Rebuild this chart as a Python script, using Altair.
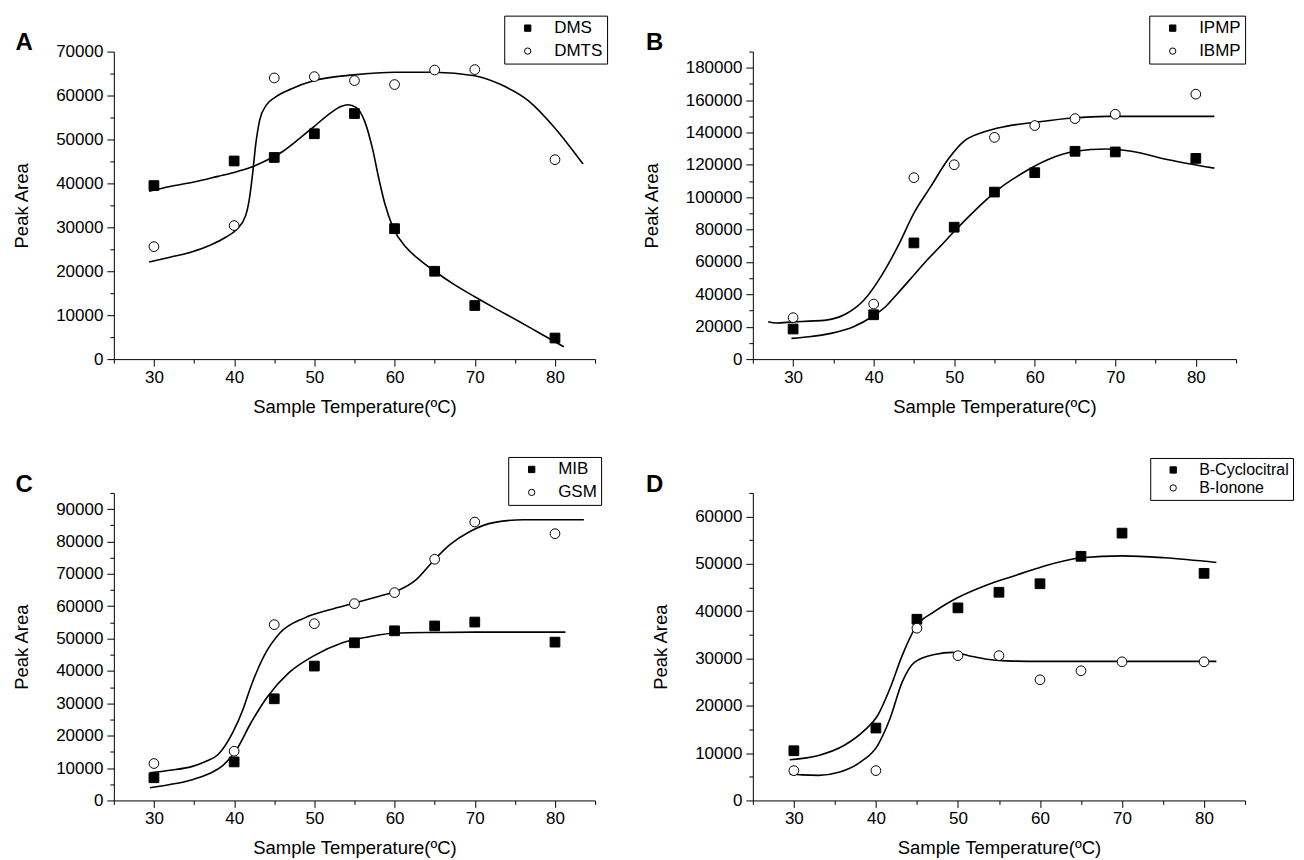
import altair as alt
import pandas as pd

FONT = "Liberation Sans"

# ---------------- data ----------------
temps = [30, 40, 45, 50, 55, 60, 65, 70, 80]
x_ticks = [25, 30, 35, 40, 45, 50, 55, 60, 65, 70, 75, 80, 85]

# Panel A
a_names = ["DMS", "DMTS"]
a_s1 = [39500, 45100, 45900, 51300, 55900, 29700, 20000, 12200, 4800]
a_s2 = [25600, 30400, 64000, 64300, 63400, 62500, 65800, 65900, 45400]
a_c1_t = [29.4, 32, 35, 38, 40, 42, 44, 46, 48, 50, 52, 53.3, 54.2, 55.2, 56.3, 57.3, 58, 58.8, 59.8, 61.4, 63.2, 65, 67.5, 70, 72.5, 75.2, 78, 81.1]
a_c1_v = [38200, 39300, 40300, 41600, 42500, 43600, 45200, 47200, 50000, 53000, 56000, 57500, 57900, 57300, 54000, 47500, 41400, 35300, 30000, 25500, 22500, 20000, 16900, 14200, 11600, 8900, 6000, 2800]
a_c2_t = [29.4, 32, 34.7, 37, 39, 40.3, 41.4, 41.9, 42.3, 42.7, 43.2, 44, 45.1, 47.1, 50, 54.9, 60.1, 65, 70, 73.1, 76.7, 79.9, 83.5]
a_c2_v = [22100, 23200, 24400, 25900, 27800, 29500, 32500, 36500, 42200, 49000, 54500, 57800, 59600, 61500, 63400, 64700, 65300, 65300, 64500, 62600, 58800, 52800, 44400]

# Panel B
b_names = ["IPMP", "IBMP"]
b_s1 = [18600, 27400, 71800, 81500, 103200, 115200, 128400, 128000, 124000]
b_s2 = [25600, 34000, 112100, 120100, 137000, 144300, 148600, 151300, 163700]
b_c1_t = [29.8, 32, 34.7, 37.5, 39.8, 41.5, 43, 45, 46.5, 48.1, 50.2, 51.8, 53.3, 55.4, 58.5, 61.6, 65, 68.9, 72, 76.6, 82.3]
b_c1_v = [12800, 13800, 15900, 20000, 26200, 32500, 40700, 52000, 60500, 68800, 79900, 88000, 95300, 104600, 115000, 123200, 128400, 129800, 128400, 123200, 118000]
b_c2_t = [26.9, 27.9, 30, 32, 34.1, 36.7, 38.8, 40.9, 43, 45, 47.1, 49.2, 51.2, 53.3, 56.4, 60, 64.7, 68.9, 75, 82.3]
b_c2_v = [23100, 22300, 23000, 23500, 24100, 28300, 36500, 51000, 69600, 90200, 106700, 123200, 134600, 139700, 143800, 146300, 149000, 150000, 150000, 150000]

# Panel C
c_names = ["MIB", "GSM"]
c_s1 = [7000, 11900, 31400, 41500, 48700, 52400, 53900, 55100, 48900]
c_s2 = [11400, 15200, 54300, 54600, 60800, 64200, 74500, 86000, 82400]
c_c1_t = [29.5, 32, 34.9, 37, 38.5, 40.3, 42.1, 44.2, 46.8, 49.8, 53.5, 57.1, 60.2, 65, 70, 75, 81.3]
c_c1_v = [3900, 4900, 6500, 8400, 10600, 15700, 24000, 32200, 39400, 44500, 48700, 50700, 51700, 51900, 52000, 52000, 52000]
c_c2_t = [29.5, 32, 34.9, 36.5, 38, 39.8, 41.1, 42.1, 43.7, 45.7, 48.8, 51.9, 55, 58.1, 60.2, 62.7, 64.8, 66.9, 69.4, 72.5, 76.1, 80, 83.6]
c_c2_v = [8500, 9300, 10600, 12100, 14200, 20900, 28100, 35300, 44500, 51700, 56400, 58900, 61000, 63100, 64600, 68200, 73900, 79000, 83100, 85900, 86700, 86700, 86700]

# Panel D
d_names = ["B-Cyclocitral", "B-Ionone"]
d_s1 = [10500, 15300, 38300, 40700, 44000, 45800, 51600, 56500, 48000]
d_s2 = [6300, 6300, 36400, 30600, 30600, 25500, 27400, 29300, 29300]
d_c1_t = [29.5, 33, 36.1, 38.6, 40.2, 41.7, 43.2, 44.7, 47.3, 50, 53.3, 56.9, 59.9, 65, 70.1, 75.2, 81.5]
d_c1_v = [8600, 9500, 11600, 14800, 17900, 23600, 30600, 36200, 40100, 42900, 45400, 47500, 49200, 51300, 51700, 51300, 50300]
d_c2_t = [29.5, 31, 33, 35.6, 38.1, 40.2, 41.7, 43.2, 44.7, 47.3, 49.3, 51.3, 53.3, 55.9, 60, 63.5, 70, 81.5]
d_c2_v = [5600, 5400, 5300, 6000, 8100, 11600, 17200, 25000, 29200, 30900, 31300, 30600, 29900, 29500, 29400, 29400, 29400, 29400]

# y-axis tick values per panel
a_yticks = list(range(0, 70001, 5000))
b_yticks = list(range(0, 190001, 10000))
c_yticks = list(range(0, 95001, 5000))
d_yticks = list(range(0, 65001, 5000))


def panel(letter, names, s1, s2, c1t, c1v, c2t, c2v, ytop, yticks, ymajor,
          width, lx, ly, lfont, lrowpad, label_x, label_y):
    pts = pd.DataFrame({
        "temp": temps + temps,
        "value": s1 + s2,
        "series": [names[0]] * len(temps) + [names[1]] * len(temps),
    })
    crv = pd.DataFrame({
        "t": c1t + c2t,
        "v": c1v + c2v,
        "series": [names[0]] * len(c1t) + [names[1]] * len(c2t),
    })
    xscale = alt.Scale(domain=[25, 85], nice=False, zero=False)
    yscale = alt.Scale(domain=[0, ytop], nice=False)
    xaxis = alt.Axis(
        values=x_ticks,
        labelExpr="datum.value % 10 === 0 ? datum.label : ''",
        tickSize={"condition": {"test": "datum.value % 10 === 0", "value": 7}, "value": 4},
        title="Sample Temperature(ºC)",
        labelPadding=3,
        titlePadding=12,
        grid=False,
    )
    yaxis = alt.Axis(
        values=yticks,
        format="d",
        labelExpr=f"datum.value % {ymajor} === 0 ? datum.label : ''",
        tickSize={"condition": {"test": f"datum.value % {ymajor} === 0", "value": 7}, "value": 4},
        title="Peak Area",
        labelPadding=4,
        titlePadding=24,
        grid=False,
    )
    leg = alt.Legend(
        orient="none", legendX=lx, legendY=ly, title=None,
        strokeColor="black", fillColor="white", padding=4, cornerRadius=0,
        labelFontSize=lfont, labelFont=FONT, labelColor="black",
        rowPadding=lrowpad, symbolSize=40, symbolStrokeColor="black",
        symbolStrokeWidth=1, symbolOffset=11, labelOffset=18,
    )
    lines = alt.Chart(crv).mark_line(
        color="black", strokeWidth=1.6, interpolate="monotone"
    ).encode(
        x=alt.X("t:Q", scale=xscale, axis=xaxis),
        y=alt.Y("v:Q", scale=yscale, axis=yaxis),
        detail="series:N",
    )
    points = alt.Chart(pts).mark_point(
        filled=True, strokeWidth=1, size=95, opacity=1
    ).encode(
        x=alt.X("temp:Q", scale=xscale, axis=xaxis),
        y=alt.Y("value:Q", scale=yscale, axis=yaxis),
        shape=alt.Shape("series:N", scale=alt.Scale(domain=names, range=["square", "circle"]), legend=leg),
        fill=alt.Fill("series:N", scale=alt.Scale(domain=names, range=["black", "white"]), legend=leg),
        stroke=alt.Stroke("series:N", scale=alt.Scale(domain=names, range=["black", "black"]), legend=leg),
    )
    lab = alt.Chart(pd.DataFrame({"label": [letter]})).mark_text(
        font=FONT, fontSize=24, fontWeight="bold", align="left",
        baseline="alphabetic", color="black"
    ).encode(text="label:N", x=alt.value(label_x), y=alt.value(label_y))
    return alt.layer(lines, points, lab).properties(width=width, height=308)


A = panel("A", a_names, a_s1, a_s2, a_c1_t, a_c1_v, a_c2_t, a_c2_v, 70000, a_yticks, 10000,
          482, 391, -36, 17, 5, -98.5, -2)
B = panel("B", b_names, b_s1, b_s2, b_c1_t, b_c1_v, b_c2_t, b_c2_v, 190000, b_yticks, 20000,
          484, 397, -36, 17, 5, -107, -2)
C = panel("C", c_names, c_s1, c_s2, c_c1_t, c_c1_v, c_c2_t, c_c2_v, 95000, c_yticks, 10000,
          482, 395, -36, 17, 5, -98.5, -1)
D = panel("D", d_names, d_s1, d_s2, d_c1_t, d_c1_v, d_c2_t, d_c2_v, 65000, d_yticks, 10000,
          493, 398, -35, 16, 2, -107, -1)

chart = alt.concat(A, B, C, D, columns=2, spacing={"row": 134, "column": 158}).properties(
    bounds="flush",
    padding={"left": 4, "top": 6, "right": 2, "bottom": 2},
    background="white",
).resolve_scale(
    shape="independent", fill="independent", stroke="independent",
    x="independent", y="independent"
).resolve_legend(
    shape="independent", fill="independent", stroke="independent"
).configure_view(stroke=None).configure_axis(
    domainColor="black", tickColor="black", labelColor="black", titleColor="black",
    labelFont=FONT, titleFont=FONT, labelFontSize=17, titleFontSize=18.5,
    titleFontWeight="normal", grid=False, domainWidth=1, tickWidth=1,
)

chart.save("out.html", embed_options={"renderer": "svg", "actions": False})
